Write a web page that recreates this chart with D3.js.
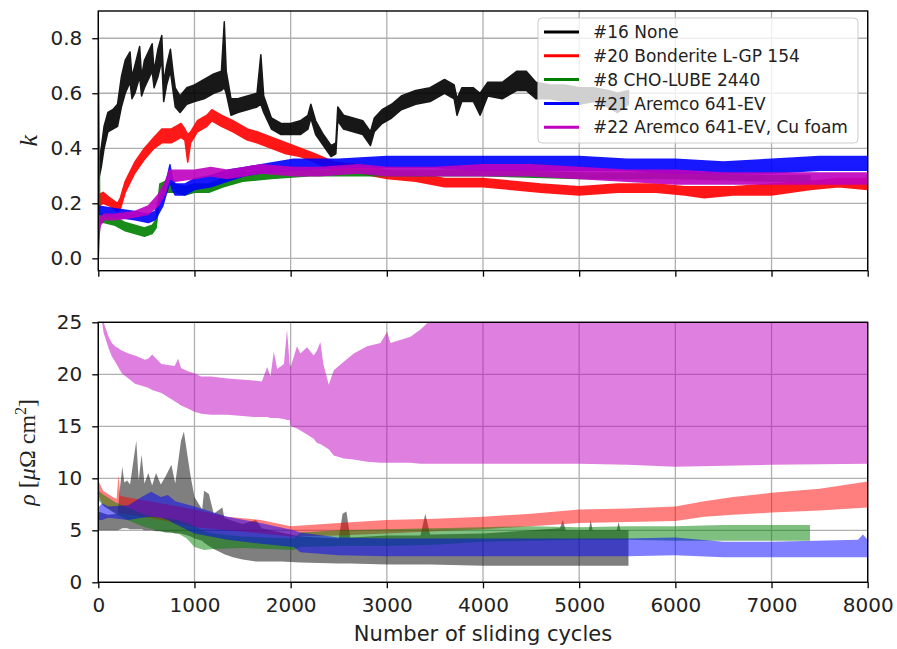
<!DOCTYPE html>
<html>
<head>
<meta charset="utf-8">
<script src="https://cdn.jsdelivr.net/npm/d3@7/dist/d3.min.js"></script>
<style>
body { margin: 0; background: #fff; }
svg text { font-family: "DejaVu Sans", sans-serif; fill: #222; }
</style>
</head>
<body>
<script>
// each row: [sliding cycle, lower edge, upper edge] of the noisy trace
const kNone = [
  [0, 0.28, 0.34], [30, 0.33, 0.40], [60, 0.40, 0.48], [100, 0.46, 0.53], [150, 0.47, 0.54],
  [200, 0.48, 0.56], [240, 0.55, 0.66], [280, 0.60, 0.72], [330, 0.64, 0.75], [350, 0.58, 0.66],
  [380, 0.60, 0.70], [430, 0.66, 0.77], [450, 0.59, 0.66], [480, 0.62, 0.72], [560, 0.68, 0.78],
  [580, 0.62, 0.68], [620, 0.66, 0.76], [660, 0.72, 0.81], [680, 0.57, 0.64], [710, 0.63, 0.70],
  [750, 0.68, 0.76], [780, 0.60, 0.67], [800, 0.55, 0.62], [850, 0.53, 0.59], [920, 0.56, 0.62],
  [1000, 0.57, 0.63], [1100, 0.58, 0.65], [1200, 0.60, 0.67], [1280, 0.61, 0.68], [1310, 0.62, 0.86],
  [1330, 0.60, 0.68], [1380, 0.52, 0.58], [1450, 0.53, 0.58], [1550, 0.54, 0.59], [1650, 0.55, 0.60],
  [1690, 0.56, 0.74], [1720, 0.53, 0.59], [1800, 0.47, 0.51], [1900, 0.45, 0.49], [2000, 0.45, 0.49],
  [2100, 0.45, 0.50], [2180, 0.47, 0.52], [2210, 0.51, 0.56], [2260, 0.45, 0.50], [2340, 0.41, 0.45],
  [2420, 0.37, 0.41], [2470, 0.38, 0.42], [2490, 0.50, 0.55], [2550, 0.47, 0.52], [2650, 0.46, 0.51],
  [2750, 0.45, 0.50], [2830, 0.41, 0.46], [2870, 0.46, 0.51], [2950, 0.49, 0.54], [3050, 0.51, 0.56],
  [3150, 0.54, 0.59], [3300, 0.56, 0.61], [3450, 0.57, 0.62], [3600, 0.60, 0.65], [3700, 0.58, 0.63],
  [3730, 0.52, 0.58], [3780, 0.57, 0.62], [3900, 0.57, 0.62], [3970, 0.52, 0.60], [4050, 0.59, 0.64],
  [4200, 0.58, 0.64], [4350, 0.61, 0.68], [4450, 0.61, 0.68], [4550, 0.58, 0.64], [4700, 0.58, 0.63],
  [4850, 0.57, 0.63], [5000, 0.56, 0.62], [5150, 0.57, 0.62], [5300, 0.55, 0.61], [5400, 0.53, 0.60],
  [5513, 0.56, 0.61]
];
const kBonderite = [
  [0, 0.19, 0.23], [50, 0.20, 0.24], [120, 0.19, 0.22], [200, 0.17, 0.20], [230, 0.18, 0.22],
  [280, 0.24, 0.28], [380, 0.31, 0.35], [480, 0.36, 0.40], [580, 0.40, 0.44], [660, 0.42, 0.47],
  [760, 0.42, 0.47], [860, 0.44, 0.49], [900, 0.43, 0.47], [930, 0.35, 0.45], [960, 0.42, 0.46],
  [1030, 0.46, 0.50], [1130, 0.48, 0.52], [1180, 0.50, 0.54], [1280, 0.48, 0.52], [1400, 0.46, 0.50],
  [1550, 0.43, 0.47], [1650, 0.42, 0.46], [1800, 0.40, 0.44], [1950, 0.38, 0.42], [2100, 0.37, 0.40],
  [2250, 0.35, 0.38], [2450, 0.32, 0.35], [2700, 0.31, 0.34], [3000, 0.29, 0.32], [3300, 0.28, 0.31],
  [3600, 0.26, 0.29], [4000, 0.26, 0.29], [4300, 0.25, 0.28], [4600, 0.24, 0.27], [5000, 0.23, 0.26],
  [5400, 0.24, 0.27], [5800, 0.24, 0.27], [6100, 0.23, 0.26], [6300, 0.22, 0.26], [6600, 0.23, 0.26],
  [7000, 0.23, 0.27], [7400, 0.25, 0.28], [7700, 0.26, 0.29], [8000, 0.25, 0.29]
];
const kChoLube = [
  [0, 0.0, 0.80], [15, 0.13, 0.16], [60, 0.13, 0.16], [175, 0.12, 0.15], [280, 0.10, 0.13],
  [380, 0.09, 0.12], [480, 0.08, 0.11], [560, 0.09, 0.12], [600, 0.11, 0.14], [640, 0.22, 0.27],
  [700, 0.24, 0.28], [800, 0.24, 0.27], [900, 0.23, 0.26], [1000, 0.24, 0.27], [1150, 0.24, 0.27],
  [1300, 0.26, 0.29], [1500, 0.28, 0.31], [1800, 0.29, 0.32], [2200, 0.30, 0.32], [3000, 0.30, 0.32],
  [4000, 0.30, 0.32], [5000, 0.29, 0.31], [6000, 0.29, 0.31], [7000, 0.28, 0.30], [7400, 0.28, 0.30]
];
const kAremco = [
  [0, 0.16, 0.19], [175, 0.15, 0.18], [380, 0.14, 0.17], [520, 0.13, 0.16], [590, 0.14, 0.17],
  [670, 0.19, 0.24], [720, 0.25, 0.30], [745, 0.28, 0.34], [770, 0.25, 0.29], [800, 0.23, 0.27],
  [900, 0.23, 0.27], [1000, 0.25, 0.29], [1170, 0.26, 0.30], [1340, 0.28, 0.32], [1520, 0.30, 0.33],
  [1690, 0.31, 0.34], [2030, 0.32, 0.36], [2500, 0.33, 0.36], [3000, 0.33, 0.37], [3500, 0.33, 0.37],
  [4000, 0.32, 0.37], [4500, 0.32, 0.37], [5000, 0.32, 0.37], [5500, 0.32, 0.36], [6000, 0.31, 0.36],
  [6500, 0.31, 0.35], [7000, 0.31, 0.36], [7500, 0.32, 0.37], [8000, 0.32, 0.37]
];
const kCuFoam = [
  [0, 0.07, 0.10], [20, 0.12, 0.15], [60, 0.14, 0.16], [175, 0.14, 0.16], [380, 0.15, 0.17],
  [520, 0.16, 0.19], [620, 0.19, 0.23], [700, 0.24, 0.28], [740, 0.29, 0.32], [800, 0.28, 0.32],
  [1000, 0.29, 0.32], [1170, 0.30, 0.33], [1340, 0.29, 0.32], [1520, 0.30, 0.33], [1690, 0.31, 0.34],
  [2030, 0.30, 0.33], [2300, 0.30, 0.33], [2700, 0.31, 0.34], [3000, 0.30, 0.33], [3500, 0.30, 0.33],
  [4000, 0.30, 0.34], [4500, 0.30, 0.34], [5000, 0.29, 0.33], [5500, 0.28, 0.32], [6000, 0.27, 0.32],
  [6500, 0.27, 0.31], [7000, 0.27, 0.31], [7500, 0.27, 0.31], [8000, 0.27, 0.31]
];

const rhoNone = [
  [0, 5.0, 6.8], [100, 5.0, 6.5], [200, 5.0, 6.6], [230, 5.1, 9.5], [250, 5.2, 11.1],
  [270, 5.2, 9.6], [300, 5.2, 9.8], [330, 5.1, 9.4], [395, 5.1, 13.6], [420, 5.1, 9.8],
  [450, 5.1, 12.3], [480, 5.0, 9.5], [520, 5.0, 10.5], [560, 5.0, 9.3], [600, 4.9, 10.5],
  [650, 4.9, 9.4], [700, 4.8, 10.2], [760, 4.8, 11.3], [800, 4.7, 9.5], [860, 4.7, 13.6],
  [890, 4.6, 14.5], [930, 4.5, 12.0], [960, 4.4, 10.2], [1000, 4.2, 8.2], [1080, 4.0, 7.0],
  [1100, 3.8, 8.8], [1150, 3.5, 8.5], [1200, 3.2, 6.6], [1290, 2.8, 7.2], [1310, 2.7, 6.2],
  [1400, 2.4, 5.9], [1500, 2.2, 5.6], [1640, 2.0, 6.0], [1700, 2.0, 5.2], [1900, 2.0, 4.8],
  [2100, 1.9, 4.4], [2500, 1.8, 4.2], [2540, 1.8, 6.6], [2580, 1.8, 6.8], [2620, 1.8, 4.3],
  [3000, 1.7, 4.5], [3350, 1.7, 4.5], [3400, 1.7, 6.6], [3450, 1.7, 4.6], [4000, 1.6, 4.7],
  [4500, 1.6, 5.0], [4800, 1.6, 5.2], [4830, 1.6, 6.0], [4860, 1.6, 5.0], [5100, 1.6, 5.0],
  [5120, 1.6, 6.0], [5140, 1.6, 5.0], [5390, 1.6, 5.0], [5410, 1.6, 5.8], [5430, 1.6, 5.0],
  [5513, 1.6, 5.0]
];
const rhoBonderite = [
  [0, 8.4, 9.8], [50, 7.4, 8.8], [150, 6.8, 8.2], [190, 6.6, 8.0], [210, 6.6, 10.3],
  [230, 6.6, 8.3], [400, 6.4, 8.0], [650, 6.0, 7.6], [1000, 5.3, 7.0], [1340, 5.0, 6.3],
  [1690, 4.7, 6.0], [2000, 4.4, 5.4], [2500, 4.5, 5.7], [3000, 4.7, 6.0], [3500, 4.9, 6.1],
  [4000, 5.1, 6.3], [4500, 5.4, 6.6], [5000, 5.7, 7.0], [5500, 5.8, 7.1], [6000, 5.9, 7.3],
  [6300, 6.3, 7.8], [6600, 6.5, 8.2], [7000, 6.7, 8.6], [7500, 6.9, 9.0], [8000, 7.2, 9.7]
];
const rhoChoLube = [
  [0, 7.9, 8.8], [60, 7.3, 8.4], [175, 6.6, 7.7], [300, 6.0, 7.2], [485, 5.3, 6.5],
  [650, 4.9, 6.2], [830, 4.7, 6.0], [920, 4.2, 5.7], [1000, 3.4, 5.4], [1100, 3.1, 4.9],
  [1200, 3.2, 4.7], [1500, 3.3, 4.4], [2030, 3.1, 4.2], [2100, 3.4, 4.8], [2500, 3.5, 5.0],
  [3000, 3.5, 5.1], [3500, 3.6, 5.2], [4000, 3.9, 5.3], [4500, 4.0, 5.4], [5000, 4.1, 5.3],
  [5500, 4.1, 5.4], [6000, 4.0, 5.4], [6500, 4.0, 5.5], [7000, 4.0, 5.5], [7400, 4.0, 5.5]
];
const rhoAremco = [
  [0, 6.0, 7.2], [40, 6.0, 7.6], [100, 6.2, 7.3], [313, 6.0, 7.4], [450, 6.2, 8.2],
  [550, 6.3, 8.7], [650, 6.2, 8.2], [725, 6.0, 8.4], [800, 5.6, 7.8], [1000, 4.7, 7.3],
  [1343, 4.1, 6.3], [1687, 3.7, 5.7], [2031, 3.4, 5.0], [2100, 2.9, 4.8], [2500, 2.6, 4.3],
  [3000, 2.5, 4.2], [4000, 2.5, 4.2], [5000, 2.5, 4.2], [5500, 2.5, 4.2], [6000, 2.6, 4.3],
  [6500, 2.4, 3.9], [7000, 2.4, 3.9], [7900, 2.4, 4.1], [7950, 2.4, 4.6], [8000, 2.4, 4.1]
];
const rhoCuFoam = [
  [40, 25.0, 25.0], [55, 24.0, 25.0], [107, 22.5, 23.6], [141, 21.7, 23.0], [175, 21.2, 22.7],
  [244, 20.1, 22.3], [313, 19.6, 22.0], [381, 19.1, 21.8], [485, 18.8, 21.4], [519, 18.7, 21.5],
  [560, 18.5, 21.9], [656, 18.2, 21.0], [794, 17.4, 20.8], [830, 17.2, 21.5], [860, 17.0, 20.6],
  [931, 16.7, 20.3], [1000, 16.4, 20.1], [1069, 16.2, 19.8], [1172, 16.1, 19.8], [1343, 16.1, 19.6],
  [1618, 15.9, 19.4], [1700, 15.9, 19.3], [1756, 15.9, 20.7], [1790, 15.8, 19.8], [1825, 15.8, 22.2],
  [1860, 15.8, 20.5], [1930, 15.7, 21.0], [1962, 15.6, 24.3], [1990, 15.6, 21.0], [2000, 15.0, 20.7],
  [2066, 14.8, 22.7], [2101, 14.6, 22.0], [2170, 14.2, 22.6], [2240, 13.8, 21.8], [2274, 13.4, 22.3],
  [2309, 13.3, 23.1], [2340, 13.1, 21.0], [2396, 12.8, 19.0], [2448, 12.2, 20.4], [2552, 11.9, 21.2],
  [2656, 11.8, 22.0], [2795, 11.6, 22.7], [2934, 11.5, 23.0], [3003, 11.5, 24.1], [3038, 11.5, 23.0],
  [3246, 11.5, 23.6], [3350, 11.4, 24.3], [3419, 11.4, 24.9], [3450, 11.4, 25.0], [4000, 11.4, 25.0],
  [5000, 11.4, 25.0], [5500, 11.3, 25.0], [6000, 11.1, 25.0], [7000, 11.3, 25.0], [8000, 11.4, 25.0]
];

const seriesNames = ["#16 None", "#20 Bonderite L-GP 154", "#8 CHO-LUBE 2440", "#21 Aremco 641-EV", "#22 Aremco 641-EV, Cu foam"];
const seriesColors = ["#000000", "#ff0000", "#008000", "#0000ff", "#bf00bf"];
const kSeries = [kNone, kBonderite, kChoLube, kAremco, kCuFoam];
const rhoSeries = [rhoNone, rhoBonderite, rhoChoLube, rhoAremco, rhoCuFoam];

const cycleTicks = [0, 1000, 2000, 3000, 4000, 5000, 6000, 7000, 8000];
const kTicks = [0.0, 0.2, 0.4, 0.6, 0.8];
const rhoTicks = [0, 5, 10, 15, 20, 25];

const width = 897, height = 649;
const left = 98.3, right = 867.7;
const topBox = {top: 11, bottom: 270.7};
const botBox = {top: 322.3, bottom: 582.3};

let svg = d3.select("body")
            .append("svg")
            .attr("width", width)
            .attr("height", height);

let xScale = d3.scaleLinear().domain([0, 8000]).range([left, right]);
let kScale = d3.scaleLinear().domain([-0.045, 0.899]).range([topBox.bottom, topBox.top]);
let rhoScale = d3.scaleLinear().domain([0, 25]).range([botBox.bottom, botBox.top]);

// clip regions for both panels
let defs = svg.append("defs");
[["clipTop", topBox], ["clipBot", botBox]].forEach(([id, b]) => {
    defs.append("clipPath").attr("id", id)
        .append("rect")
        .attr("x", left).attr("y", b.top)
        .attr("width", right - left).attr("height", b.bottom - b.top);
});

function drawGrid(box, yScale, yTicks) {
    let g = svg.append("g").attr("stroke", "#b0b0b0").attr("stroke-width", 1.3);
    cycleTicks.forEach(t => {
        g.append("line").attr("x1", xScale(t)).attr("x2", xScale(t))
         .attr("y1", box.top).attr("y2", box.bottom);
    });
    yTicks.forEach(t => {
        g.append("line").attr("x1", left).attr("x2", right)
         .attr("y1", yScale(t)).attr("y2", yScale(t));
    });
}

function bandArea(yScale) {
    return d3.area()
        .x(d => xScale(d[0]))
        .y0(d => yScale(d[1]))
        .y1(d => yScale(d[2]));
}

function drawAxes(box, yScale, yTicks, yFormat, showX) {
    let yAxis = svg.append("g")
        .attr("transform", "translate(" + left + ",0)")
        .call(d3.axisLeft(yScale).tickValues(yTicks).tickFormat(yFormat).tickSize(6).tickPadding(10));
    let xAxis = svg.append("g")
        .attr("transform", "translate(0," + box.bottom + ")")
        .call(d3.axisBottom(xScale).tickValues(cycleTicks)
              .tickFormat(showX ? d3.format("d") : "").tickSize(6).tickPadding(10));
    [yAxis, xAxis].forEach(a => {
        a.select(".domain").remove();
        a.selectAll(".tick line").attr("stroke", "#000").attr("stroke-width", 1.3);
        a.selectAll(".tick text").attr("font-size", 20).attr("fill", "#222")
         .style("font-family", "'DejaVu Sans', sans-serif");
    });
    // frame
    svg.append("rect")
        .attr("x", left).attr("y", box.top)
        .attr("width", right - left).attr("height", box.bottom - box.top)
        .attr("fill", "none").attr("stroke", "#000").attr("stroke-width", 1.4);
}

// top panel: friction coefficient k
drawGrid(topBox, kScale, kTicks);
let topData = svg.append("g").attr("clip-path", "url(#clipTop)");
kSeries.forEach((s, i) => {
    topData.append("g").attr("opacity", 0.9)
        .append("path")
        .datum(s)
        .attr("d", bandArea(kScale))
        .attr("fill", seriesColors[i])
        .attr("stroke", seriesColors[i])
        .attr("stroke-width", 1.5)
        .attr("stroke-linejoin", "round");
});
drawAxes(topBox, kScale, kTicks, d3.format(".1f"), false);

// legend
let legend = svg.append("g");
legend.append("rect")
    .attr("x", 538).attr("y", 18).attr("width", 320).attr("height", 125)
    .attr("rx", 4)
    .attr("fill", "#fff").attr("fill-opacity", 0.8)
    .attr("stroke", "#cccccc").attr("stroke-width", 1);
seriesNames.forEach((name, i) => {
    let y = 32 + i * 23.8;
    legend.append("line")
        .attr("x1", 544).attr("x2", 579).attr("y1", y).attr("y2", y)
        .attr("stroke", seriesColors[i]).attr("stroke-width", 3);
    legend.append("text")
        .attr("x", 593).attr("y", y).attr("dy", "0.36em")
        .attr("font-size", 17)
        .text(name);
});

// k label
svg.append("text")
    .attr("transform", "translate(37," + ((topBox.top + topBox.bottom) / 2) + ") rotate(-90)")
    .attr("text-anchor", "middle")
    .style("font-family", "'Liberation Serif', serif")
    .style("font-style", "italic")
    .attr("font-size", 26)
    .text("k");

// bottom panel: contact resistivity
drawGrid(botBox, rhoScale, rhoTicks);
let botData = svg.append("g").attr("clip-path", "url(#clipBot)");
rhoSeries.forEach((s, i) => {
    botData.append("path")
        .datum(s)
        .attr("d", bandArea(rhoScale))
        .attr("fill", seriesColors[i])
        .attr("fill-opacity", 0.5);
});
drawAxes(botBox, rhoScale, rhoTicks, d3.format("d"), true);

// rho label
let rhoLabel = svg.append("text")
    .attr("transform", "translate(35," + ((botBox.top + botBox.bottom) / 2) + ") rotate(-90)")
    .attr("text-anchor", "middle")
    .style("font-family", "'Liberation Serif', serif")
    .attr("font-size", 24);
rhoLabel.append("tspan").style("font-style", "italic").text("ρ");
rhoLabel.append("tspan").text(" [");
rhoLabel.append("tspan").style("font-style", "italic").text("μ");
rhoLabel.append("tspan").text("Ω cm");
rhoLabel.append("tspan").attr("dy", -9).attr("font-size", 16).text("2");
rhoLabel.append("tspan").attr("dy", 9).text("]");

// x label
svg.append("text")
    .attr("x", (left + right) / 2)
    .attr("y", 641)
    .attr("text-anchor", "middle")
    .attr("font-size", 21)
    .text("Number of sliding cycles");
</script>
</body>
</html>
